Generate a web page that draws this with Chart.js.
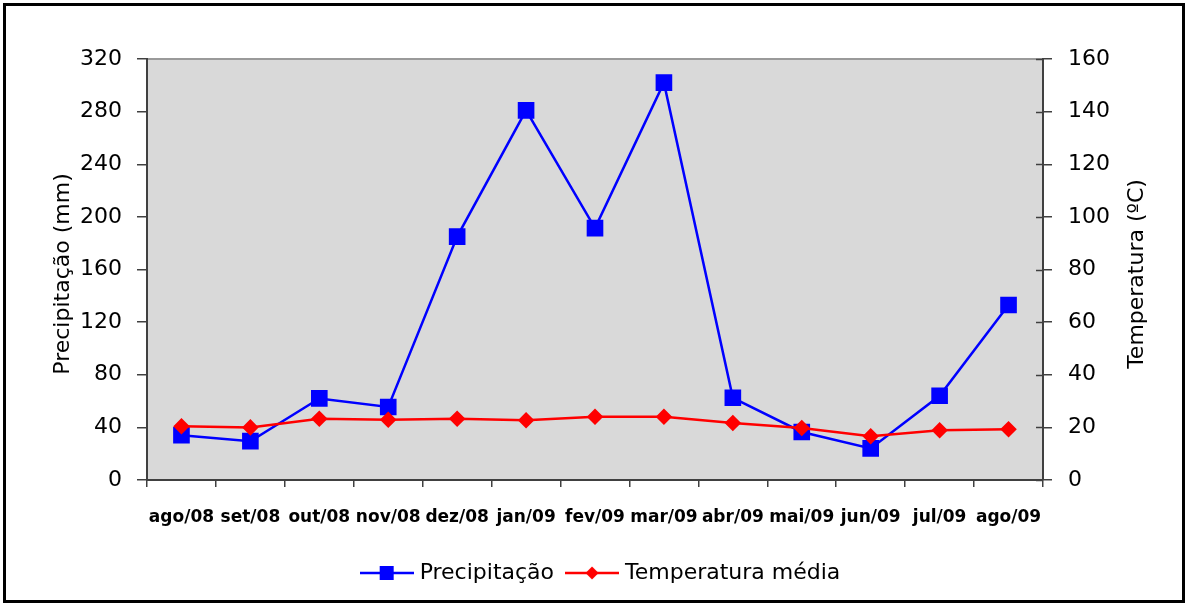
<!DOCTYPE html>
<html>
<head>
<meta charset="utf-8">
<script src="https://cdn.jsdelivr.net/npm/chart.js@4/dist/chart.umd.min.js"></script>
<style>
  html, body { margin: 0; padding: 0; background: #fff; }
  #wrap { width: 1187px; height: 604px; }
</style>
</head>
<body>
<div id="wrap"><canvas id="chart" width="1187" height="604"></canvas></div>
<script>
// --- data ---
const months = ['ago/08', 'set/08', 'out/08', 'nov/08', 'dez/08', 'jan/09', 'fev/09',
                'mar/09', 'abr/09', 'mai/09', 'jun/09', 'jul/09', 'ago/09'];
const precipitacao = [34, 29.5, 62, 55.5, 185, 281, 191.5, 302, 62.5, 36.5, 24, 64, 133];
const temperatura  = [20.4, 20.0, 23.3, 22.9, 23.3, 22.7, 24.0, 24.0, 21.7, 19.8, 16.6, 18.9, 19.3];
const precipAxis = { min: 0, max: 320, step: 40 };
const tempAxis   = { min: 0, max: 160, step: 20 };
const axisTitles = { left: 'Precipitação (mm)', right: 'Temperatura (ºC)' };

const BLUE = '#0000ff', RED = '#ff0000', AXIS = '#404040';
const FONT = "'DejaVu Sans', sans-serif";
Chart.defaults.font.family = FONT;
Chart.defaults.color = '#000';

// little "line + marker" swatches for the legend
function swatch(color, shape) {
  const c = document.createElement('canvas');
  c.width = 54; c.height = 16;
  const g = c.getContext('2d');
  g.strokeStyle = color; g.fillStyle = color; g.lineWidth = 2.5;
  g.beginPath(); g.moveTo(0, 8); g.lineTo(54, 8); g.stroke();
  g.beginPath();
  if (shape === 'square') g.rect(20, 1, 14, 14);
  else { g.moveTo(27, 1.5); g.lineTo(33.5, 8); g.lineTo(27, 14.5); g.lineTo(20.5, 8); g.closePath(); }
  g.fill();
  return c;
}

// grey plot area, outer frame, inner ticks on the right axis, both axis titles (read bottom-up)
const decor = {
  id: 'decor',
  beforeDraw(chart) {
    const { ctx, chartArea: a } = chart;
    ctx.save();
    ctx.fillStyle = '#d9d9d9';
    ctx.fillRect(a.left, a.top, a.right - a.left, a.bottom - a.top);
    ctx.strokeStyle = '#9a9a9a'; ctx.lineWidth = 2;
    ctx.beginPath(); ctx.moveTo(a.left, a.top); ctx.lineTo(a.right, a.top); ctx.stroke();
    ctx.restore();
  },
  afterDraw(chart) {
    const { ctx, chartArea: a } = chart;
    const s = chart.scales.y1;
    ctx.save();
    ctx.strokeStyle = AXIS; ctx.lineWidth = 1.5;
    s.ticks.forEach(t => {
      const y = Math.round(s.getPixelForValue(t.value)) + 0.5;
      ctx.beginPath(); ctx.moveTo(a.right - 7, y); ctx.lineTo(a.right, y); ctx.stroke();
    });

    ctx.fillStyle = '#000';
    ctx.font = '22px ' + FONT;
    ctx.textAlign = 'center'; ctx.textBaseline = 'middle';
    [[63, axisTitles.left], [1137, axisTitles.right]].forEach(([x, txt]) => {
      ctx.save();
      ctx.translate(x, 274);
      ctx.rotate(-Math.PI / 2);
      ctx.fillText(txt, 0, 0);
      ctx.restore();
    });

    ctx.strokeStyle = '#000'; ctx.lineWidth = 3;
    ctx.strokeRect(4.5, 4.5, 1179, 597);
    ctx.restore();
  }
};

new Chart(document.getElementById('chart'), {
  type: 'line',
  data: {
    labels: months,
    datasets: [
      {
        label: 'Precipitação',
        data: precipitacao,
        yAxisID: 'y',
        borderColor: BLUE, backgroundColor: BLUE,
        borderWidth: 2.5,
        pointStyle: 'rect', pointRadius: 10, pointHoverRadius: 10,
        tension: 0, order: 1,
      },
      {
        label: 'Temperatura média',
        data: temperatura,
        yAxisID: 'y1',
        borderColor: RED, backgroundColor: RED,
        borderWidth: 2.5,
        pointStyle: 'rectRot', pointRadius: 6.5, pointHoverRadius: 6.5,
        tension: 0, order: 0,
      },
    ],
  },
  options: {
    responsive: false,
    animation: false,
    devicePixelRatio: 1,
    layout: { padding: { top: 59, left: 18, right: 0, bottom: 10 } },
    plugins: {
      tooltip: { enabled: false },
      legend: {
        position: 'bottom',
        labels: {
          usePointStyle: true,
          pointStyleWidth: 44,
          boxHeight: 16,
          padding: 16,
          font: { size: 22 },
          color: '#000',
          generateLabels: chart => chart.data.datasets.map((ds, i) => ({
            text: ds.label,
            pointStyle: swatch(ds.borderColor, i === 0 ? 'square' : 'diamond'),
            fillStyle: ds.borderColor,
            strokeStyle: ds.borderColor,
            lineWidth: 0,
            hidden: false,
            datasetIndex: i,
            fontColor: '#000',
          })),
        },
      },
    },
    scales: {
      x: {
        offset: true,
        grid: { offset: true, drawOnChartArea: false, drawTicks: true, tickLength: 7, color: AXIS, lineWidth: 1.5 },
        border: { color: AXIS, width: 2 },
        ticks: { autoSkip: false, maxRotation: 0, padding: 20, font: { size: 17, weight: 'bold' } },
        afterFit: s => { s.height = 66; },
      },
      y: {
        position: 'left',
        min: precipAxis.min, max: precipAxis.max,
        ticks: { stepSize: precipAxis.step, padding: 15, font: { size: 22 } },
        grid: { drawOnChartArea: false, tickLength: 10, color: AXIS, lineWidth: 1.5 },
        border: { color: AXIS, width: 2 },
        afterFit: s => { s.width = 129; },
      },
      y1: {
        position: 'right',
        min: tempAxis.min, max: tempAxis.max,
        ticks: { stepSize: tempAxis.step, padding: 16, font: { size: 22 } },
        grid: { drawOnChartArea: false, tickLength: 9, color: AXIS, lineWidth: 1.5 },
        border: { color: AXIS, width: 2 },
        afterFit: s => { s.width = 144; },
      },
    },
  },
  plugins: [decor],
});
</script>
</body>
</html>
